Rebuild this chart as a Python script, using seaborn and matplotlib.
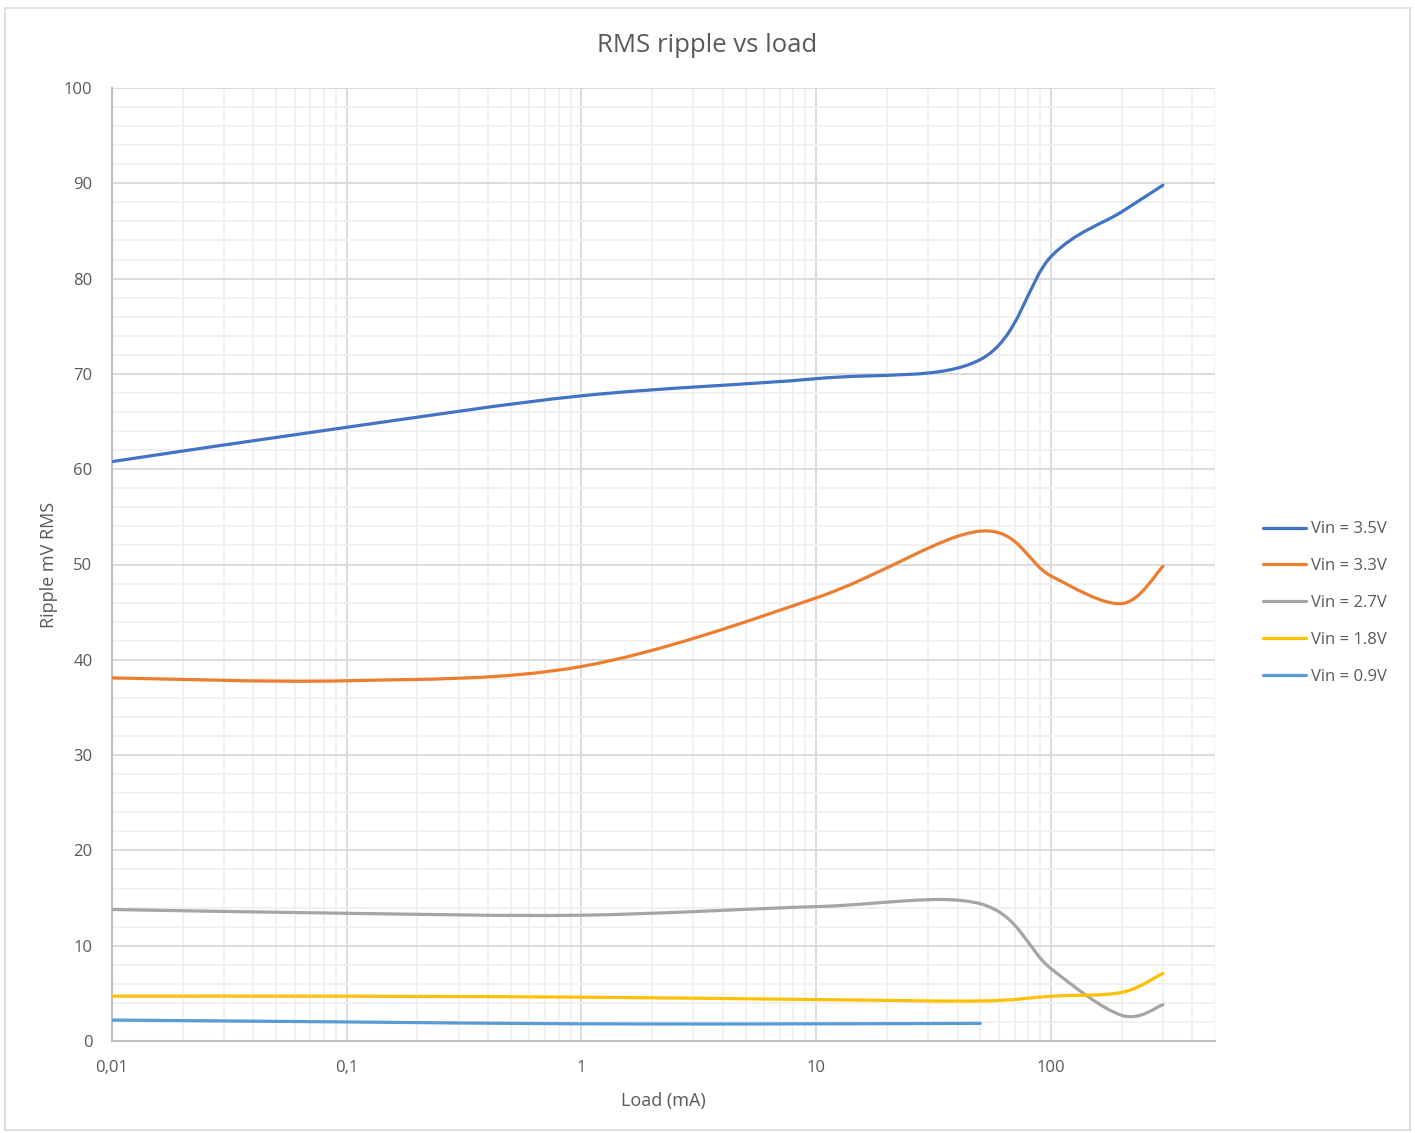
import numpy as np
import matplotlib
matplotlib.use("Agg")
import matplotlib.pyplot as plt
import seaborn as sns
from matplotlib.path import Path
from matplotlib.patches import PathPatch, Rectangle
from matplotlib.lines import Line2D
from matplotlib.ticker import LogLocator, FixedLocator, MultipleLocator, FuncFormatter

sns.set_theme(style="white")
plt.rcParams["font.family"] = ["Open Sans", "DejaVu Sans"]

# ---------- data ----------
labels = ["Vin = 3.5V", "Vin = 3.3V", "Vin = 2.7V", "Vin = 1.8V", "Vin = 0.9V"]
colors = ["#4472C4", "#ED7D31", "#A5A5A5", "#FFC000", "#5B9BD5"]

load_full = [0.01, 0.1, 1, 10, 50, 100, 200, 300]
load_09 = [0.01, 0.1, 1, 10, 50]

rip_35 = [60.8, 64.4, 67.7, 69.5, 71.5, 82.3, 87.0, 89.8]
rip_33 = [38.1, 37.8, 39.3, 46.5, 53.5, 48.8, 45.9, 49.8]
rip_27 = [13.8, 13.4, 13.2, 14.1, 14.4, 7.6, 2.7, 3.8]
rip_18 = [4.7, 4.7, 4.6, 4.35, 4.2, 4.7, 5.1, 7.1]
rip_09 = [2.2, 2.0, 1.8, 1.8, 1.85]

series = [
    (load_full, rip_35),
    (load_full, rip_33),
    (load_full, rip_27),
    (load_full, rip_18),
    (load_09, rip_09),
]


def smooth_path(x, y):
    # Excel-style smoothed line: cubic Bezier segments through the data points,
    # control points built in log10(x) space
    pts = np.column_stack([np.log10(x), y]).astype(float)
    n = len(pts)
    verts = [pts[0]]
    codes = [Path.MOVETO]
    for i in range(n - 1):
        p0 = pts[i - 1] if i > 0 else pts[i]
        p1, p2 = pts[i], pts[i + 1]
        p3 = pts[i + 2] if i + 2 < n else pts[i + 1]
        verts += [p1 + (p2 - p0) / 6, p2 - (p3 - p1) / 6, p2]
        codes += [Path.CURVE4] * 3
    verts = np.array(verts)
    verts[:, 0] = 10 ** verts[:, 0]
    return Path(verts, codes)


fig = plt.figure(figsize=(14.15, 11.33), dpi=100)
ax = fig.add_axes([112 / 1415, 1 - 1041 / 1133, 1103 / 1415, 953 / 1133])

ax.set_xscale("log")
ax.set_xlim(0.01, 500)
ax.set_ylim(0, 100)

for (x, y), c in zip(series, colors):
    ax.add_patch(PathPatch(smooth_path(x, y), fill=False, edgecolor=c,
                           lw=2.3, capstyle="round", joinstyle="round", zorder=3))

# axes / grid
ax.xaxis.set_major_locator(FixedLocator([0.01, 0.1, 1, 10, 100]))
ax.xaxis.set_minor_locator(LogLocator(base=10, subs=np.arange(2, 10), numticks=20))
ax.xaxis.set_major_formatter(FuncFormatter(lambda v, p: f"{v:g}".replace(".", ",")))
ax.yaxis.set_major_locator(MultipleLocator(10))
ax.yaxis.set_minor_locator(MultipleLocator(2))
ax.grid(which="major", color="#D9D9D9", lw=1.3)
ax.grid(which="minor", color="#F0F0F0", lw=1.3)
ax.set_axisbelow(True)
for s in ["top", "right"]:
    ax.spines[s].set_visible(False)
for s in ["left", "bottom"]:
    ax.spines[s].set_color("#BFBFBF")
    ax.spines[s].set_linewidth(1.5)
ax.tick_params(which="both", length=0, labelsize=12, labelcolor="#595959")
ax.tick_params(axis="x", pad=14)
ax.tick_params(axis="y", pad=14)

ax.set_xlabel("Load (mA)", fontsize=13, color="#595959")
ax.set_ylabel("Ripple mV RMS", fontsize=13, color="#595959")
ax.xaxis.set_label_coords(0.5, -0.053)
ax.yaxis.set_label_coords(-0.049, 0.5)

fig.text(0.5, 1 - 45 / 1133, "RMS ripple vs load", ha="center", va="center",
         fontsize=18.5, color="#595959")

handles = [Line2D([0], [0], color=c, lw=2.3) for c in colors]
fig.legend(handles, labels, loc="center left", bbox_to_anchor=(1248 / 1415, 1 - 603 / 1133),
           frameon=False, fontsize=12, labelcolor="#595959", handlelength=2.6,
           handletextpad=0.3, labelspacing=1.25)

fig.patches.append(Rectangle((5 / 1415, 3 / 1133), 1405 / 1415, 1122 / 1133,
                             transform=fig.transFigure, fill=False,
                             edgecolor="#D9D9D9", lw=1.2))

plt.savefig("out.png", dpi=100)
plt.close()
